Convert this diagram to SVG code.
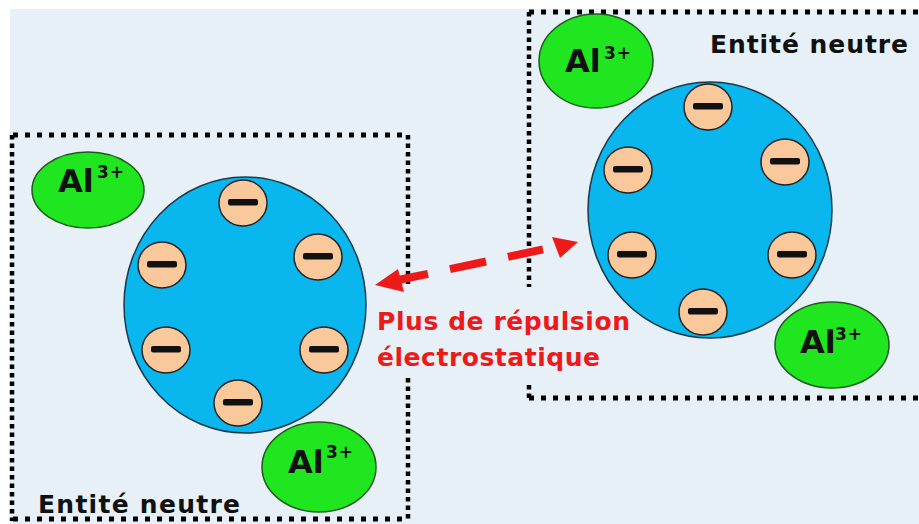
<svg xmlns="http://www.w3.org/2000/svg" xmlns:xlink="http://www.w3.org/1999/xlink" width="919" height="524" viewBox="0 0 919 524">
<style>
.bg{fill:#e7f0f7}
.dotH{stroke:#000;stroke-width:5;stroke-dasharray:5 7;fill:none}
.dotV{stroke:#000;stroke-width:4.5;stroke-dasharray:4.5 4;fill:none}
.big{fill:#0ab6ee;stroke:#1a3a4a;stroke-width:1.5}
.neg{fill:#f9c99c;stroke:#222;stroke-width:1.5}
.ion{fill:#1fe61f;stroke:#1f5a1f;stroke-width:1.5}
.t{font-family:"DejaVu Sans",sans-serif;font-weight:bold}
.al{font-size:32px;fill:#111}
.sup{font-size:17px;fill:#111;letter-spacing:1px}
.lbl{font-size:25px;fill:#111}
.red{font-size:25px;fill:#ee1a1a}
.arr{stroke:#ee1a1a;stroke-width:8;fill:none}
.head{fill:#ee1a1a}
</style>
<defs>
<g id="minus"><ellipse rx="24" ry="23" class="neg"/><rect x="-15" y="-4" width="30" height="6.5" rx="2" fill="#111"/></g>
</defs>
<rect width="919" height="524" fill="#ffffff"/>
<rect x="10" y="9" width="909" height="515" class="bg"/>

<g id="left-entity">
<path class="dotH" d="M13 135H408M13 519H408"/>
<path class="dotV" d="M12 135V521M408 135V288M408 378V519"/>
<text class="t lbl" x="38" y="513" textLength="202" lengthAdjust="spacing">Entité neutre</text>
</g>
<g id="right-entity">
<path class="dotH" d="M529 12H919M529 398H919"/>
<path class="dotV" d="M529 12V287M529 385V398"/>
<text class="t lbl" x="710" y="53" textLength="198" lengthAdjust="spacing">Entité neutre</text>
</g>

<g id="left-particle">
<ellipse class="big" cx="245" cy="305" rx="121" ry="128"/>
<use xlink:href="#minus" x="243" y="203"/>
<use xlink:href="#minus" x="318" y="257"/>
<use xlink:href="#minus" x="162" y="265"/>
<use xlink:href="#minus" x="166" y="350"/>
<use xlink:href="#minus" x="324" y="350"/>
<use xlink:href="#minus" x="238" y="403"/>
</g>
<g id="right-particle">
<ellipse class="big" cx="710" cy="210" rx="122" ry="128"/>
<use xlink:href="#minus" x="708" y="107"/>
<use xlink:href="#minus" x="785" y="162"/>
<use xlink:href="#minus" x="628" y="170"/>
<use xlink:href="#minus" x="632" y="255"/>
<use xlink:href="#minus" x="792" y="255"/>
<use xlink:href="#minus" x="703" y="312"/>
</g>

<g id="ion-l1">
<ellipse class="ion" cx="88" cy="190" rx="56" ry="38"/>
<text class="t al" x="58" y="192">Al</text><text class="t sup" x="97" y="178">3+</text>
</g>
<g id="ion-l2">
<ellipse class="ion" cx="319" cy="467" rx="57" ry="45"/>
<text class="t al" x="288" y="473">Al</text><text class="t sup" x="326" y="458">3+</text>
</g>
<g id="ion-r1">
<ellipse class="ion" cx="596" cy="61" rx="57" ry="47"/>
<text class="t al" x="565" y="72">Al</text><text class="t sup" x="604" y="59">3+</text>
</g>
<g id="ion-r2">
<ellipse class="ion" cx="832" cy="345" rx="57" ry="43"/>
<text class="t al" x="800" y="353">Al</text><text class="t sup" x="835" y="340">3+</text>
</g>

<g id="connectors">
<polygon class="head" points="375,285 398,269 404,292"/>
<line class="arr" x1="398" y1="280" x2="428" y2="273.8"/>
<line class="arr" x1="450" y1="269.1" x2="486" y2="261.5"/>
<line class="arr" x1="508" y1="256.8" x2="543" y2="249.4"/>
<polygon class="head" points="578,242 552,237 560,258"/>
</g>

<g id="label">
<text class="t red" x="377" y="330" textLength="253" lengthAdjust="spacing">Plus de répulsion</text>
<text class="t red" x="377" y="366" textLength="223" lengthAdjust="spacing">électrostatique</text>
</g>
</svg>
